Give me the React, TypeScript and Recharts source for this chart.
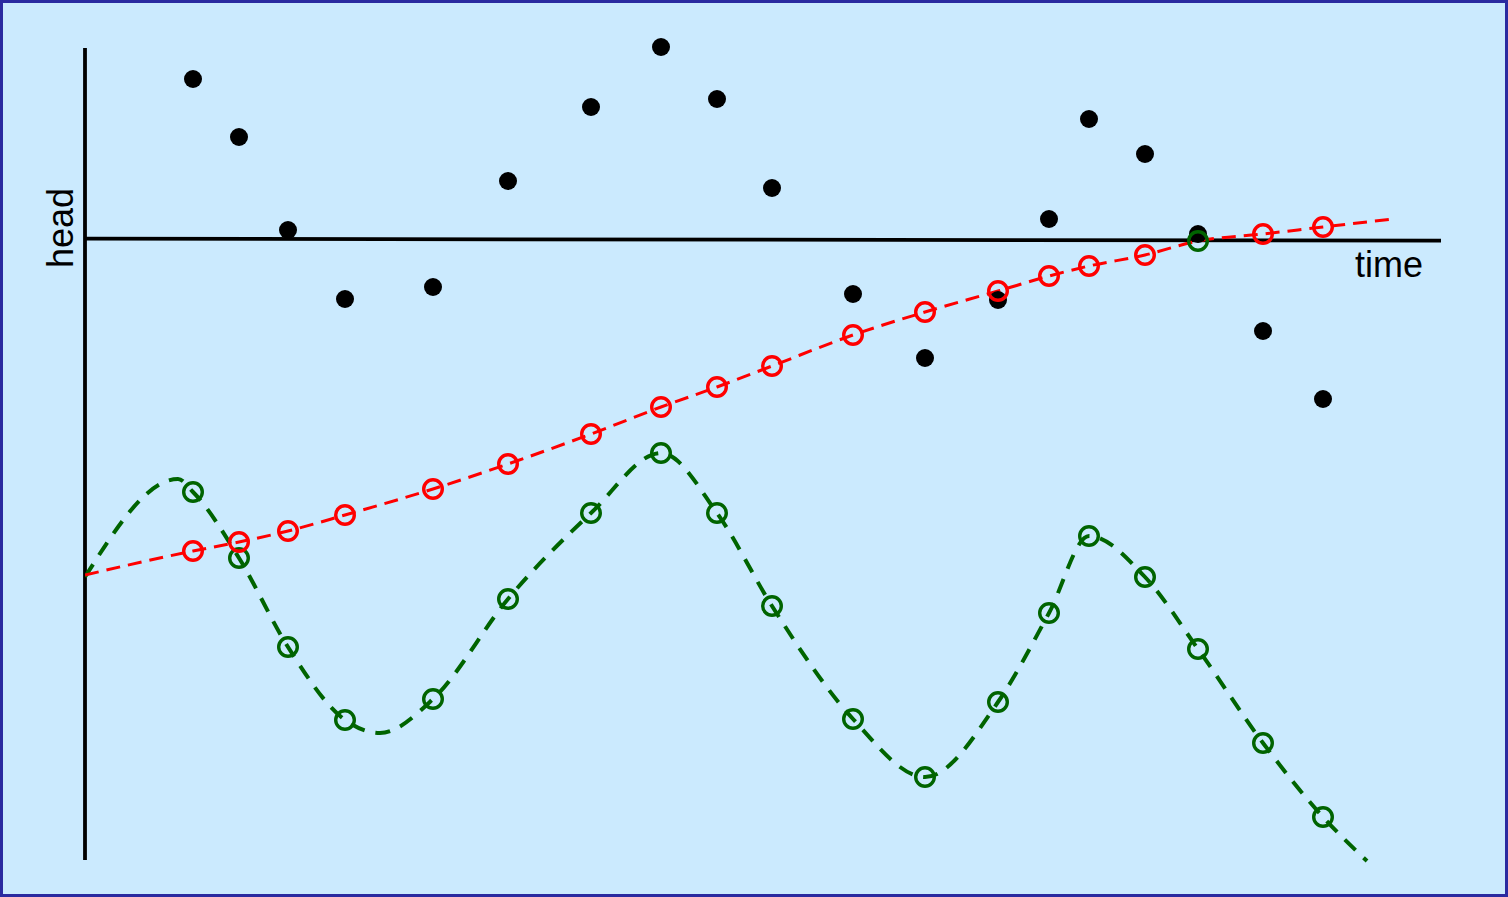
import React from "react";
import { ComposedChart, Line, Scatter, XAxis, YAxis, ReferenceLine } from "recharts";

// observation times (shared by all three series)
const times = [10.8, 15.4, 20.3, 26.0, 34.8, 42.3, 50.6, 57.6, 63.2, 68.7, 76.8, 84.0, 91.3, 96.4, 100.4, 106.0, 111.3, 117.8, 123.8];
// measured heads (black dots)
const observedHead = [16.0, 10.2, 0.9, -6.0, -4.8, 5.8, 13.2, 19.2, 14.0, 5.1, -5.5, -11.9, -6.1, 2.0, 12.0, 8.5, 0.5, -9.2, -16.0];
// red (trend) series; the point at the axis crossing is drawn in green
const redHead = [-31.2, -30.3, -29.2, -27.6, -25.0, -22.5, -19.5, -16.8, -14.8, -12.7, -9.6, -7.3, -5.2, -3.7, -2.7, -1.6, -0.2, 0.5, 1.2];
const crossingIndex = 16;
// green (fluctuating) series
const greenHead = [-25.3, -31.9, -40.8, -48.1, -46.0, -36.0, -27.4, -21.4, -27.4, -36.7, -48.0, -53.8, -46.3, -37.4, -29.7, -33.8, -41.0, -50.4, -57.8];
// curve points without markers
const redCurveExtra = [{ t: 0, h: -33.6 }, { t: 130.8, h: 2.0 }];
const greenCurveExtra = [{ t: 0, h: -33.8 }, { t: 9.3, h: -24.0 }, { t: 29.5, h: -49.4 }, { t: 128.2, h: -62.2 }];

const axisTop = 19.1;
const axisBottom = -62.1;
const timeAxisEnd = 135.6;

const blackPts = times.map((t, i) => ({ t, h: observedHead[i] }));
const redAll = times.map((t, i) => ({ t, h: redHead[i] }));
const redPts = redAll.filter((_, i) => i !== crossingIndex);
const crossingPts = redAll.filter((_, i) => i === crossingIndex);
const greenPts = times.map((t, i) => ({ t, h: greenHead[i] }));
const redCurve = [...redAll, ...redCurveExtra].sort((a, b) => a.t - b.t);
const greenCurve = [...greenPts, ...greenCurveExtra].sort((a, b) => a.t - b.t);

const ring = (color: string) => (props: any) => (
  <circle cx={props.cx} cy={props.cy} r={9.3} fill="none" stroke={color} strokeWidth={3.4} />
);
const dotShape = (props: any) => <circle cx={props.cx} cy={props.cy} r={9} fill="#000" />;

export default function App() {
  return (
    <div style={{ position: "relative", width: 1508, height: 897, background: "#cbeafe" }}>
      <style>{"body{margin:0}"}</style>
      <ComposedChart
        width={1508}
        height={897}
        margin={{ top: 19, right: 67, bottom: 17, left: 85 }}
      >
        <XAxis dataKey="t" type="number" domain={[0, timeAxisEnd]} hide allowDataOverflow />
        <YAxis dataKey="h" type="number" domain={[-64.1, 22.0]} hide allowDataOverflow />
        <ReferenceLine
          segment={[{ x: 0, y: axisTop }, { x: 0, y: axisBottom }]}
          stroke="#000"
          strokeWidth={3.8}
        />
        <ReferenceLine
          segment={[{ x: 0, y: 0.03 }, { x: timeAxisEnd, y: -0.17 }]}
          stroke="#000"
          strokeWidth={3.8}
        />
        <Scatter data={blackPts} dataKey="h" shape={dotShape} isAnimationActive={false} />
        <Line
          data={greenCurve}
          dataKey="h"
          type="monotone"
          stroke="#006400"
          strokeWidth={4}
          strokeDasharray="15 11"
          dot={false}
          activeDot={false}
          isAnimationActive={false}
        />
        <Scatter data={greenPts} dataKey="h" shape={ring("#006400")} isAnimationActive={false} />
        <Line
          data={redCurve}
          dataKey="h"
          type="monotone"
          stroke="#ff0000"
          strokeWidth={3}
          strokeDasharray="14 8"
          dot={false}
          activeDot={false}
          isAnimationActive={false}
        />
        <Scatter data={redPts} dataKey="h" shape={ring("#ff0000")} isAnimationActive={false} />
        <Scatter data={crossingPts} dataKey="h" shape={ring("#006400")} isAnimationActive={false} />
      </ComposedChart>
      <svg
        width={1508}
        height={897}
        style={{ position: "absolute", left: 0, top: 0, pointerEvents: "none" }}
      >
        <text
          x={73}
          y={228}
          transform="rotate(-90, 73, 228)"
          textAnchor="middle"
          fontFamily="'Liberation Sans', Arial, sans-serif"
          fontSize={36}
          fill="#000"
        >
          head
        </text>
        <text
          x={1355}
          y={277}
          textAnchor="start"
          fontFamily="'Liberation Sans', Arial, sans-serif"
          fontSize={36}
          fill="#000"
        >
          time
        </text>
      </svg>
      <div
        style={{
          position: "absolute",
          left: 0,
          top: 0,
          width: 1508,
          height: 897,
          boxSizing: "border-box",
          border: "3px solid #2a2aa0",
          pointerEvents: "none",
        }}
      />
    </div>
  );
}
